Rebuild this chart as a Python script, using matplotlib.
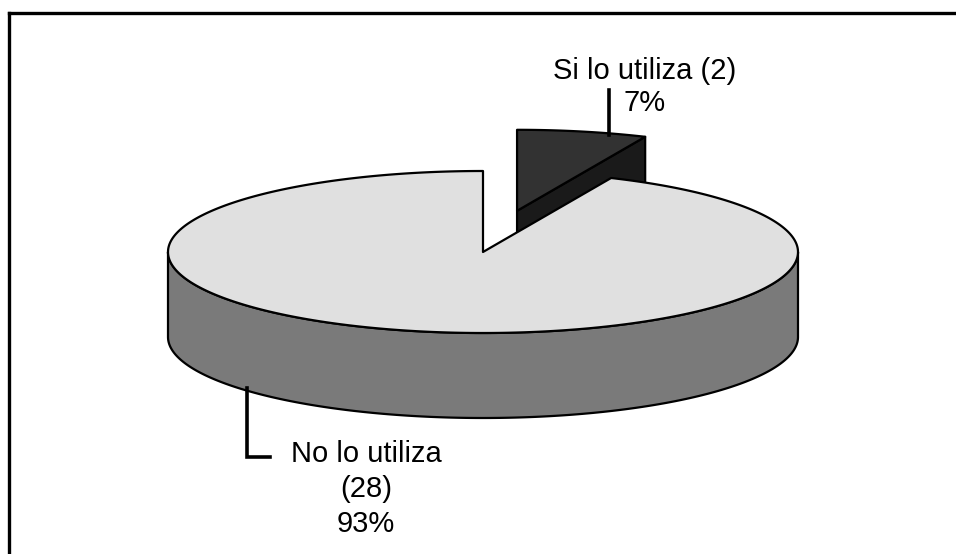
import numpy as np
import matplotlib
matplotlib.use("Agg")
import matplotlib.pyplot as plt
from matplotlib.patches import Polygon
from matplotlib.lines import Line2D

# Survey answers
labels = ["Si lo utiliza", "No lo utiliza"]
counts = [2, 28]

# Styling per slice
top_colors = ["#323232", "#e0e0e0"]
side_colors = ["#1a1a1a", "#7a7a7a"]
explode = [0.52, 0.0]
name_sep = [" ", "\n"]

plt.rcParams["font.family"] = ["Liberation Sans", "DejaVu Sans"]

fig = plt.figure(figsize=(9.56, 5.54), dpi=100)
ax = fig.add_axes([0, 0, 1, 1])
ax.set_xlim(0, 956)
ax.set_ylim(554, 0)
ax.axis("off")

# Pie geometry (pixel space)
cx, cy, rx, ry, depth = 483, 252, 315, 81, 85
EDGE = dict(edgecolor="black", linewidth=1.6, joinstyle="round")


def rim(theta, dx=0.0, dy=0.0, down=0.0):
    t = np.radians(np.atleast_1d(theta))
    return np.column_stack([cx + dx + rx * np.cos(t),
                            cy + dy - ry * np.sin(t) + down])


total = float(sum(counts))
slices = []
start = 90.0
for lab, n, e in zip(labels, counts, explode):
    span = 360.0 * n / total
    t0, t1 = start, start - span
    mid = np.radians((t0 + t1) / 2)
    dx = e * rx * np.cos(mid)
    dy = -e * ry * np.sin(mid)
    slices.append(dict(t0=t0, t1=t1, dx=dx, dy=dy))
    start = t1

# Draw the exploded (back) slice first, then the main body
order = sorted(range(len(slices)), key=lambda i: -explode[i])
for i in order:
    s = slices[i]
    t0, t1, dx, dy = s["t0"], s["t1"], s["dx"], s["dy"]
    c = np.array([[cx + dx, cy + dy]])
    # radial cut faces that face the viewer
    for t, visible in ((t0, np.cos(np.radians(t0)) < -1e-9),
                       (t1, np.cos(np.radians(t1)) > 1e-9)):
        if visible:
            p = rim(t, dx, dy)
            face = np.vstack([c, p, p + [0, depth], c + [0, depth]])
            ax.add_patch(Polygon(face, closed=True, facecolor=side_colors[i], **EDGE))
    # outer wall on the front half
    lo, hi = t1, t0
    for k in range(-2, 2):
        a = max(lo, -180 + 360 * k)
        b = min(hi, 0 + 360 * k)
        if b > a:
            ts = np.linspace(a, b, 200)
            upper = rim(ts, dx, dy)
            lower = rim(ts[::-1], dx, dy, depth)
            ax.add_patch(Polygon(np.vstack([upper, lower]), closed=True,
                                 facecolor=side_colors[i], **EDGE))
    # top face
    ts = np.linspace(t0, t1, 400)
    top = np.vstack([c, rim(ts, dx, dy)])
    ax.add_patch(Polygon(top, closed=True, facecolor=top_colors[i], **EDGE))

# Data labels with leader lines
pcts = [round(100 * n / total) for n in counts]
texts = [f"{lab}{sep}({n})\n{p}%" for lab, sep, n, p in zip(labels, name_sep, counts, pcts)]

# small slice: label above, vertical leader down to the rim
s = slices[0]
anchor = rim(73.0, s["dx"], s["dy"])[0]
ax.add_line(Line2D([anchor[0], anchor[0]], [anchor[1] + 2, 90], color="black", lw=2.6))
ax.text(645, 87, texts[0], ha="center", va="center", fontsize=21,
        linespacing=1.15, color="black")

# main slice: label below-left, elbow leader from the bottom rim
s = slices[1]
anchor = rim(-138.5, s["dx"], s["dy"], depth)[0]
ax.add_line(Line2D([anchor[0], anchor[0], anchor[0] + 23],
                   [anchor[1] - 3, 457, 457], color="black", lw=2.6,
                   solid_joinstyle="miter"))
ax.text(366, 489, texts[1], ha="center", va="center", fontsize=21,
        linespacing=1.3, color="black")

# chart frame (top and left edges)
fig.add_artist(Line2D([9 / 956, 1], [1 - 13 / 554, 1 - 13 / 554],
                      transform=fig.transFigure, color="black", lw=2.4))
fig.add_artist(Line2D([9 / 956, 9 / 956], [0, 1 - 13 / 554],
                      transform=fig.transFigure, color="black", lw=2.4))

fig.savefig("out.png", dpi=100)
